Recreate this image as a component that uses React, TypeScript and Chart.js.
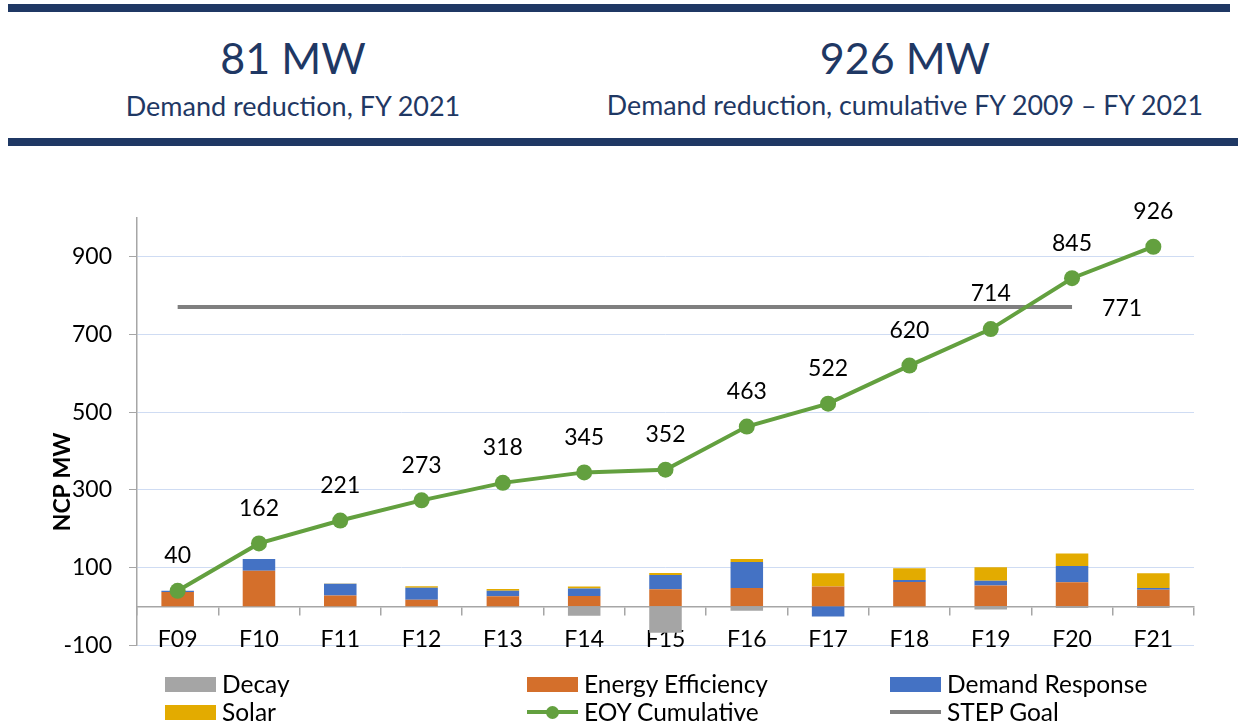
import React, { useEffect, useRef } from 'react';
import { Chart, registerables } from 'chart.js';

Chart.register(...registerables);

const categories = ['F09', 'F10', 'F11', 'F12', 'F13', 'F14', 'F15', 'F16', 'F17', 'F18', 'F19', 'F20', 'F21'];
const decay = [0, 0, 0, 0, 0, -24, -68, -11, 0, 0, -8, -4, -4];
const energyEfficiency = [37, 92, 28, 17, 26, 27, 44, 47, 51, 63, 54, 62, 43];
const demandResponse = [3, 30, 30, 31, 14, 19, 37, 67, -26, 5, 12, 42, 4];
const solar = [0, 0, 1, 4, 5, 5, 5, 8, 34, 30, 35, 32, 38];
const eoyCumulative = [40, 162, 221, 273, 318, 345, 352, 463, 522, 620, 714, 845, 926];
const stepGoal = [771, 771, 771, 771, 771, 771, 771, 771, 771, 771, 771, 771, null];
const yTickValues = [-100, 100, 300, 500, 700, 900];

const FONT = 'Lato, "Noto Sans", sans-serif';
const NAVY = '#1f3864';
const GREEN = '#63a03f';
const GOAL_GRAY = '#7f7f7f';
const AXIS_GRAY = '#a6a6a6';
const GRID_BLUE = '#cfdcf3';
const C_DECAY = '#a5a5a5';
const C_EE = '#d46f2b';
const C_DR = '#4472c4';
const C_SOLAR = '#e3ab00';

const CANVAS_TOP = 150;
const CANVAS_H = 526;

const labelPlugin = {
  id: 'customLabels',
  afterDatasetsDraw(chart: any) {
    const ctx = chart.ctx;
    ctx.save();
    ctx.fillStyle = '#000';
    ctx.font = `23px ${FONT}`;
    ctx.textAlign = 'center';
    ctx.textBaseline = 'middle';
    const m0 = chart.getDatasetMeta(0);
    m0.data.forEach((pt: any, i: number) => {
      ctx.fillText(String(eoyCumulative[i]), pt.x, pt.y - 35);
    });
    const m1 = chart.getDatasetMeta(1);
    let last = -1;
    stepGoal.forEach((v, i) => { if (v !== null) last = i; });
    if (last >= 0) {
      const pt = m1.data[last];
      ctx.textAlign = 'left';
      ctx.fillText(String(stepGoal[last]), pt.x + 30, pt.y + 2);
    }
    ctx.font = `bold 23px ${FONT}`;
    ctx.textAlign = 'center';
    ctx.translate(63, 482 - CANVAS_TOP);
    ctx.rotate(-Math.PI / 2);
    ctx.fillText('NCP MW', 0, 0);
    ctx.restore();
  },
};

function LegendItem({ x, y, kind, color, text }: { x: number; y: number; kind: string; color: string; text: string }) {
  let swatch: React.ReactNode;
  if (kind === 'box') {
    swatch = <div style={{ width: 51, height: 15, background: color }} />;
  } else {
    swatch = (
      <div style={{ width: 51, height: 15, position: 'relative' }}>
        <div style={{ position: 'absolute', left: 0, top: 5.5, width: 51, height: 4, background: color }} />
        {kind === 'marker' && (
          <div style={{ position: 'absolute', left: 19, top: 1, width: 13, height: 13, borderRadius: '50%', background: color }} />
        )}
      </div>
    );
  }
  return (
    <div style={{ position: 'absolute', left: x, top: y - 14, height: 28, display: 'flex', alignItems: 'center' }}>
      {swatch}
      <span style={{ marginLeft: 6, fontFamily: FONT, fontSize: 24.5, lineHeight: '28px', color: '#000', whiteSpace: 'nowrap' }}>{text}</span>
    </div>
  );
}

export default function App() {
  const ref = useRef<HTMLCanvasElement | null>(null);

  useEffect(() => {
    if (!ref.current) return;
    const chart = new Chart(ref.current, {
      type: 'bar',
      data: {
        labels: categories,
        datasets: [
          {
            type: 'line', label: 'EOY Cumulative', data: eoyCumulative, borderColor: GREEN, backgroundColor: GREEN,
            borderWidth: 4, pointRadius: 8, pointBackgroundColor: GREEN, pointBorderColor: GREEN, pointBorderWidth: 0,
            stack: 'eoy', order: 0, tension: 0,
          } as any,
          {
            type: 'line', label: 'STEP Goal', data: stepGoal, borderColor: GOAL_GRAY, backgroundColor: GOAL_GRAY,
            borderWidth: 4, pointRadius: 0, stack: 'goal', order: 1, spanGaps: false,
          } as any,
          { label: 'Decay', data: decay, backgroundColor: C_DECAY, stack: 'bars', order: 2 },
          { label: 'Energy Efficiency', data: energyEfficiency, backgroundColor: C_EE, stack: 'bars', order: 3 },
          { label: 'Demand Response', data: demandResponse, backgroundColor: C_DR, stack: 'bars', order: 4 },
          { label: 'Solar', data: solar, backgroundColor: C_SOLAR, stack: 'bars', order: 5 },
        ],
      },
      options: {
        responsive: false,
        maintainAspectRatio: false,
        animation: false,
        devicePixelRatio: 1,
        layout: { padding: { left: 0, right: 44, top: 68, bottom: 5 } },
        datasets: { bar: { categoryPercentage: 0.4, barPercentage: 1 } },
        plugins: { legend: { display: false }, tooltip: { enabled: false }, title: { display: false } },
        scales: {
          x: {
            stacked: true,
            position: { y: 0 } as any,
            grid: { offset: true, drawOnChartArea: false, drawTicks: true, tickLength: 8, color: AXIS_GRAY, lineWidth: 1.5 },
            border: { color: AXIS_GRAY, width: 1.5 },
            ticks: { font: { family: FONT, size: 23 }, color: '#000', padding: 11, maxRotation: 0 },
            afterFit: (s: any) => { s.height = 0; },
          },
          y: {
            stacked: true,
            min: -100,
            max: 1000,
            afterBuildTicks: (s: any) => { s.ticks = yTickValues.map((v) => ({ value: v })); },
            grid: { color: GRID_BLUE, lineWidth: 1, tickColor: AXIS_GRAY, tickLength: 8, drawTicks: true },
            border: { color: AXIS_GRAY, width: 1.5 },
            ticks: { font: { family: FONT, size: 23 }, color: '#000', padding: 17 },
            afterFit: (s: any) => { s.width = 137; },
          },
        },
      },
      plugins: [labelPlugin],
    });
    return () => chart.destroy();
  }, []);

  return (
    <div style={{ position: 'absolute', left: 0, top: 0, width: 1238, height: 725, background: '#fff', overflow: 'hidden' }}>
      <div style={{ position: 'absolute', left: 8, top: 4, width: 1222, height: 8, background: NAVY }} />
      <div style={{ position: 'absolute', left: 8, top: 138, width: 1230, height: 8, background: NAVY }} />
      <div style={{ position: 'absolute', left: 0, top: 36, width: 586, textAlign: 'center', fontFamily: FONT, fontSize: 43, lineHeight: '43px', color: NAVY }}>81 MW</div>
      <div style={{ position: 'absolute', left: 0, top: 92, width: 586, textAlign: 'center', fontFamily: FONT, fontSize: 27, lineHeight: '27px', color: NAVY, whiteSpace: 'nowrap' }}>Demand reduction, FY 2021</div>
      <div style={{ position: 'absolute', left: 505, top: 36, width: 800, textAlign: 'center', fontFamily: FONT, fontSize: 43, lineHeight: '43px', color: NAVY }}>926 MW</div>
      <div style={{ position: 'absolute', left: 505, top: 92, width: 800, textAlign: 'center', fontFamily: FONT, fontSize: 26.8, lineHeight: '27px', color: NAVY, whiteSpace: 'nowrap' }}>Demand reduction, cumulative FY 2009 – FY 2021</div>
      <canvas ref={ref} width={1238} height={CANVAS_H} style={{ position: 'absolute', left: 0, top: CANVAS_TOP, width: 1238, height: CANVAS_H }} />
      <LegendItem x={165} y={684} kind="box" color={C_DECAY} text="Decay" />
      <LegendItem x={527} y={684} kind="box" color={C_EE} text="Energy Efficiency" />
      <LegendItem x={890} y={684} kind="box" color={C_DR} text="Demand Response" />
      <LegendItem x={165} y={712} kind="box" color={C_SOLAR} text="Solar" />
      <LegendItem x={527} y={712} kind="marker" color={GREEN} text="EOY Cumulative" />
      <LegendItem x={890} y={712} kind="line" color={GOAL_GRAY} text="STEP Goal" />
    </div>
  );
}
